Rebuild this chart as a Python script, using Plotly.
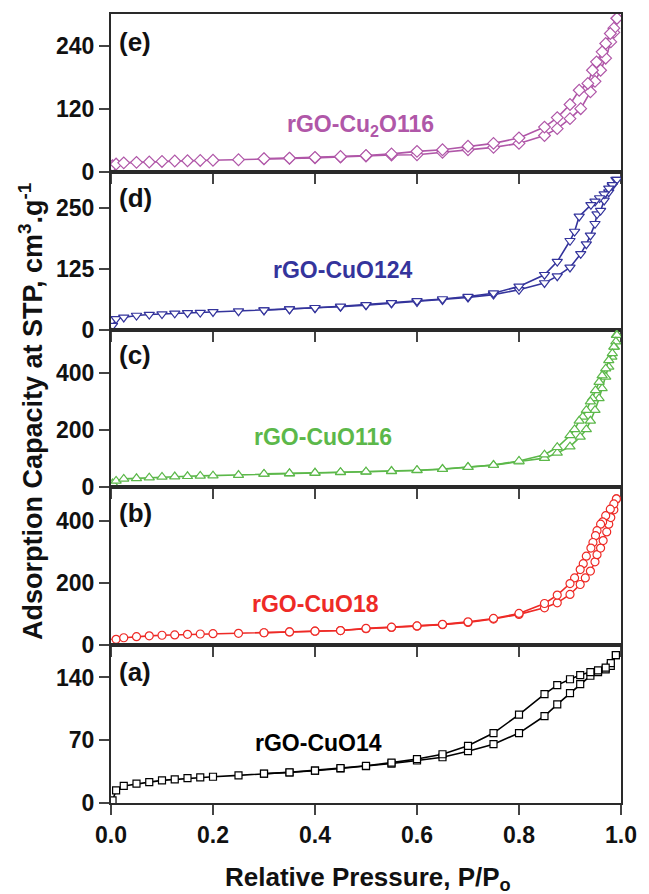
import plotly.graph_objects as go
from plotly.subplots import make_subplots

# ---------------- data ----------------
low_x = [0.003, 0.01, 0.025, 0.05, 0.075, 0.1, 0.125, 0.15, 0.175, 0.2,
         0.25, 0.3, 0.35, 0.4, 0.45, 0.5, 0.55, 0.6, 0.65, 0.7, 0.75, 0.8]

# (a) rGO-CuO14
a_ads_x = low_x + [0.85, 0.875, 0.9, 0.92, 0.94, 0.955, 0.97, 0.98, 0.99]
a_ads_y = [3, 14, 19, 21.5, 23.3, 25.2, 26.3, 27.8, 28.5, 29.3,
           30.8, 32.6, 34, 36, 38.5, 41, 44, 47.4, 51, 57.8, 65.6, 78,
           97, 110, 122.6, 132.6, 141.9, 146, 149, 153, 165]
a_des_x = [0.99, 0.98, 0.97, 0.955, 0.94, 0.92, 0.9, 0.875, 0.85, 0.8, 0.75,
           0.7, 0.65, 0.6, 0.55, 0.5, 0.45, 0.4, 0.35, 0.3]
a_des_y = [165, 156, 151, 148, 146, 142.7, 138, 131.5, 121.5, 98.6, 78,
           63.8, 54.4, 49, 45, 41.5, 39, 36.2, 34.2, 32.8]

# (b) rGO-CuO18
b_ads_x = low_x + [0.85, 0.875, 0.9, 0.92, 0.93, 0.94, 0.949, 0.953, 0.96,
                   0.965, 0.972, 0.976, 0.98, 0.986, 0.991]
b_ads_y = [7, 19, 24, 27.5, 30, 32, 33, 35, 36, 37,
           38, 40, 42.5, 45, 47, 53, 57, 61, 66, 73, 84, 99,
           120, 136, 163, 195, 216, 238, 268, 291, 312, 336, 364, 389, 410, 435, 470]
b_des_x = [0.991, 0.986, 0.979, 0.97, 0.964, 0.96, 0.953, 0.95, 0.945, 0.941,
           0.932, 0.926, 0.92, 0.909, 0.9, 0.875, 0.85, 0.8, 0.75, 0.7, 0.65,
           0.6, 0.55, 0.5, 0.45, 0.4, 0.35, 0.3]
b_des_y = [470, 454, 437, 416, 396, 389, 368, 352, 330, 312,
           286, 262, 243, 216, 198, 161, 134, 102, 86, 75, 67,
           62, 58, 54, 47, 45, 42.5, 40]

# (c) rGO-CuO116
c_ads_x = low_x + [0.85, 0.875, 0.9, 0.92, 0.932, 0.94, 0.949, 0.957, 0.963,
                   0.97, 0.976, 0.982, 0.987, 0.991]
c_ads_y = [14, 22.6, 29.6, 31.7, 34, 36.7, 37.7, 38.8, 40, 41,
           43, 46, 48, 50, 52, 54, 56, 59, 63.5, 70.5, 77.6, 90,
           102, 120, 142, 176, 202, 232, 269, 310, 345, 385, 420, 455, 490, 531]
c_des_x = [0.992, 0.99, 0.986, 0.983, 0.976, 0.97, 0.963, 0.957, 0.95, 0.944,
           0.94, 0.932, 0.925, 0.918, 0.909, 0.9, 0.875, 0.85, 0.8, 0.75,
           0.7, 0.65, 0.6, 0.55, 0.5, 0.45, 0.4, 0.35, 0.3]
c_des_y = [531, 508, 490, 467, 443, 414, 390, 367, 338, 310,
           299, 269, 246, 232, 202, 181, 140, 114, 92, 78,
           71, 64, 60, 57, 55, 53, 51, 49, 47]

# (d) rGO-CuO124
d_ads_x = low_x + [0.85, 0.875, 0.9, 0.921, 0.932, 0.94, 0.949, 0.953, 0.96,
                   0.967, 0.976, 0.983, 0.99]
d_ads_y = [8, 22, 25, 29, 31, 32, 33.5, 34.3, 35, 36.4,
           38, 40, 42, 44, 47, 50, 54, 57, 61, 66, 72, 82,
           96, 110, 128, 156, 176, 194, 218, 238, 245, 266, 283, 296, 309]
d_des_x = [0.992, 0.983, 0.976, 0.967, 0.958, 0.949, 0.941, 0.918, 0.909, 0.9,
           0.875, 0.85, 0.8, 0.75, 0.7, 0.65, 0.6, 0.55, 0.5, 0.45, 0.4, 0.35, 0.3]
d_des_y = [309, 298, 291, 279, 271, 264, 257, 233, 202, 183,
           140, 113, 89, 75, 68, 63, 59, 55, 51, 48, 45, 42, 40]

# (e) rGO-Cu2O116
e_ads_x = low_x + [0.85, 0.875, 0.9, 0.921, 0.94, 0.949, 0.96, 0.97, 0.98,
                   0.986, 0.992]
e_ads_y = [11.5, 14.7, 17, 18, 18.6, 19.7, 20.5, 21, 21.6, 22,
           23, 24.5, 25.5, 26.5, 28, 30, 32, 32.5, 37, 42, 46.5, 54,
           69, 82, 101, 120, 152, 172, 193, 216, 247, 265, 292]
e_des_x = [0.992, 0.986, 0.979, 0.97, 0.963, 0.952, 0.944, 0.935, 0.918, 0.9,
           0.875, 0.85, 0.8, 0.75, 0.7, 0.65, 0.6, 0.55, 0.5, 0.45, 0.4, 0.35, 0.3]
e_des_y = [292, 273, 263, 244, 228, 209, 193, 168, 155, 128,
           103, 85, 64.5, 54, 48.5, 42, 38.9, 34, 31, 29, 27.5, 26, 25]

panel_letters = ["(e)", "(d)", "(c)", "(b)", "(a)"]
sample_names = ["rGO-Cu<sub>2</sub>O116", "rGO-CuO124", "rGO-CuO116", "rGO-CuO18", "rGO-CuO14"]
y_ranges = [[0, 300], [0, 325], [0, 550], [0, 507], [0, 176]]
y_ticks = [[0, 120, 240], [0, 125, 250], [0, 200, 400], [0, 200, 400], [0, 70, 140]]
x_ticks = [0.0, 0.2, 0.4, 0.6, 0.8, 1.0]

# ---------------- styles ----------------
colors = ["#B057A8", "#34349C", "#5CB84A", "#EE2A26", "#000000"]
symbols = ["diamond", "triangle-down", "triangle-up", "circle", "square"]
sizes = [9, 9, 9, 8, 7]
label_pos = [(0.49, 0.859), (0.454, 0.675), (0.415, 0.4645), (0.40, 0.252), (0.407, 0.0757)]
letter_y = [0.965, 0.767, 0.568, 0.367, 0.166]

series = [
    (e_ads_x, e_ads_y, e_des_x, e_des_y),
    (d_ads_x, d_ads_y, d_des_x, d_des_y),
    (c_ads_x, c_ads_y, c_des_x, c_des_y),
    (b_ads_x, b_ads_y, b_des_x, b_des_y),
    (a_ads_x, a_ads_y, a_des_x, a_des_y),
]

FONT = "Arial, Liberation Sans, Helvetica, sans-serif"
AX = "#2a2a2a"

fig = make_subplots(rows=5, cols=1, shared_xaxes=True, vertical_spacing=0)

for i, (ax, ay, dx, dy) in enumerate(series):
    r = i + 1
    for xs, ys in ((ax, ay), (dx, dy)):
        fig.add_trace(go.Scatter(
            x=xs, y=ys, mode="lines+markers", showlegend=False,
            line=dict(color=colors[i], width=1.6),
            marker=dict(symbol=symbols[i], size=sizes[i], color="white",
                        line=dict(color=colors[i], width=1.2)),
        ), row=r, col=1)
    fig.update_yaxes(range=y_ranges[i], tickvals=y_ticks[i], row=r, col=1)
    fig.add_annotation(xref="paper", yref="paper", x=0.012, y=letter_y[i],
                       xanchor="left", yanchor="middle", showarrow=False,
                       text=panel_letters[i],
                       font=dict(family=FONT, size=26, color="#111", weight="bold"))
    fig.add_annotation(xref="paper", yref="paper", x=label_pos[i][0], y=label_pos[i][1],
                       xanchor="center", yanchor="middle", showarrow=False,
                       text=sample_names[i],
                       font=dict(family=FONT, size=23, color=colors[i], weight="bold"))

fig.update_xaxes(range=[0, 1], tickvals=x_ticks, tickformat=".1f",
                 showline=True, mirror=True, linecolor=AX, linewidth=2,
                 ticks="outside", ticklen=10, tickwidth=2, tickcolor="#444",
                 showgrid=False, zeroline=False,
                 tickfont=dict(family=FONT, size=23, color="#111", weight="bold"))
fig.update_yaxes(showline=True, mirror=True, linecolor=AX, linewidth=2,
                 ticks="outside", ticklen=10, tickwidth=2, tickcolor="#444",
                 showgrid=False, zeroline=False,
                 tickfont=dict(family=FONT, size=23, color="#111", weight="bold"))

fig.add_annotation(xref="paper", yref="paper", x=0.504, y=-0.096,
                   xanchor="center", yanchor="middle", showarrow=False,
                   text="Relative Pressure, P/P<sub>o</sub>",
                   font=dict(family=FONT, size=26, color="#111", weight="bold"))
fig.add_annotation(xref="paper", yref="paper", x=-0.158, y=0.496,
                   xanchor="center", yanchor="middle", showarrow=False, textangle=-90,
                   text="Adsorption Capacity at STP, cm<sup>3</sup>.g<sup>-1</sup>",
                   font=dict(family=FONT, size=27, color="#111", weight="bold"))

fig.update_layout(width=649, height=894,
                  margin=dict(l=111, r=20, t=13.5, b=91.3),
                  plot_bgcolor="white", paper_bgcolor="white",
                  font=dict(family=FONT))

fig.write_html("out.html")
